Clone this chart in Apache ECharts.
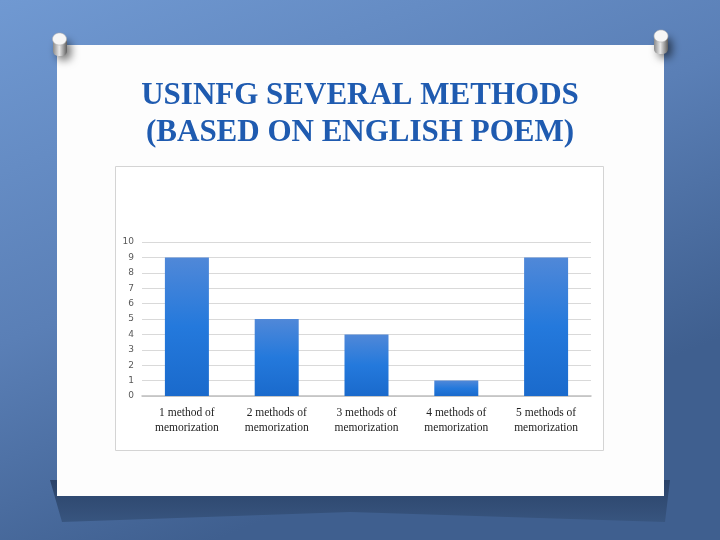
<!DOCTYPE html>
<html>
<head>
<meta charset="utf-8">
<script src="https://cdn.jsdelivr.net/npm/echarts@6/dist/echarts.min.js"></script>
<style>
html,body{margin:0;padding:0;}
#c{width:720px;height:540px;}
</style>
</head>
<body>
<div id="c"></div>
<script>
var titleLines = ['USINFG SEVERAL METHODS', '(BASED ON ENGLISH POEM)'];
var categories = ['1 method of memorization', '2 methods of memorization', '3 methods of memorization', '4 methods of memorization', '5 methods of memorization'];
var values = [9, 5, 4, 1, 9];
var yTicks = [0, 1, 2, 3, 4, 5, 6, 7, 8, 9, 10];

var chart = echarts.init(document.getElementById('c'));
var pinFill = {type: 'linear', x: 0, y: 0, x2: 1, y2: 0, colorStops: [{offset: 0, color: '#8a8a8a'}, {offset: 0.45, color: '#e8e8e8'}, {offset: 1, color: '#5e5e5e'}]};
var option = {
  backgroundColor: {
    type: 'linear', x: 0, y: 0, x2: 0.3, y2: 1,
    colorStops: [
      {offset: 0, color: '#7099d2'},
      {offset: 0.55, color: '#5a7fb6'},
      {offset: 1, color: '#3f5f8f'}
    ]
  },
  animation: false,
  title: {
    text: titleLines.join('\n'),
    left: 'center',
    top: 72,
    textStyle: {
      fontFamily: 'Liberation Serif',
      fontWeight: 'bold',
      fontSize: 31,
      lineHeight: 37,
      color: '#1f5bb0'
    }
  },
  graphic: {
    z: -10,
    elements: [
      {type: 'polygon', z: -10, shape: {points: [[50, 480], [670, 480], [665, 522], [350, 512], [62, 522]]},
        style: {fill: {type: 'linear', x: 0, y: 0, x2: 0, y2: 1, colorStops: [{offset: 0, color: '#2a4268'}, {offset: 1, color: '#38557f'}]}}},
      {type: 'rect', z: -9, shape: {x: 57, y: 45, width: 607, height: 451},
        style: {fill: '#fdfdfd'}},
      {type: 'rect', z: -8, shape: {x: 115.5, y: 166.5, width: 488, height: 284},
        style: {fill: '#ffffff', stroke: '#d4d4d4', lineWidth: 1}},
      {type: 'rect', z: -6, shape: {x: 53, y: 37, width: 14, height: 19, r: 5},
        style: {fill: pinFill, shadowBlur: 8, shadowColor: 'rgba(0,0,0,0.55)', shadowOffsetX: 4, shadowOffsetY: 4}},
      {type: 'ellipse', z: -5, shape: {cx: 59.5, cy: 39, rx: 7, ry: 6}, style: {fill: '#f6f6f6', stroke: '#b0b0b0', lineWidth: 0.6}},
      {type: 'rect', z: -6, shape: {x: 654, y: 34, width: 14, height: 20, r: 5},
        style: {fill: pinFill, shadowBlur: 8, shadowColor: 'rgba(0,0,0,0.55)', shadowOffsetX: 4, shadowOffsetY: 4}},
      {type: 'ellipse', z: -5, shape: {cx: 661, cy: 36, rx: 7, ry: 6}, style: {fill: '#f6f6f6', stroke: '#b0b0b0', lineWidth: 0.6}}
    ]
  },
  grid: {left: 142, right: 129, top: 242, bottom: 144, containLabel: false},
  xAxis: {
    type: 'category',
    data: categories,
    axisLine: {show: true, lineStyle: {color: '#bfbfbf', width: 1.5}},
    axisTick: {show: false},
    axisLabel: {
      interval: 0,
      margin: 9,
      fontFamily: 'Liberation Serif',
      fontSize: 11.5,
      lineHeight: 15,
      color: '#222',
      formatter: function (v) { return v.replace(' of ', ' of\n'); }
    }
  },
  yAxis: {
    type: 'value',
    min: yTicks[0],
    max: yTicks[yTicks.length - 1],
    interval: 1,
    axisLine: {show: false},
    axisTick: {show: false},
    splitLine: {lineStyle: {color: '#d9d9d9', width: 1}},
    axisLabel: {fontFamily: 'DejaVu Sans', fontSize: 9, color: '#595959', margin: 8}
  },
  series: [{
    type: 'bar',
    data: values,
    barWidth: 44,
    itemStyle: {
      color: {type: 'linear', x: 0, y: 0, x2: 0, y2: 1,
        colorStops: [{offset: 0, color: '#5088d8'}, {offset: 0.5, color: '#2479dc'}, {offset: 1, color: '#1a6acc'}]}
    }
  }]
};
chart.setOption(option);
</script>
</body>
</html>
